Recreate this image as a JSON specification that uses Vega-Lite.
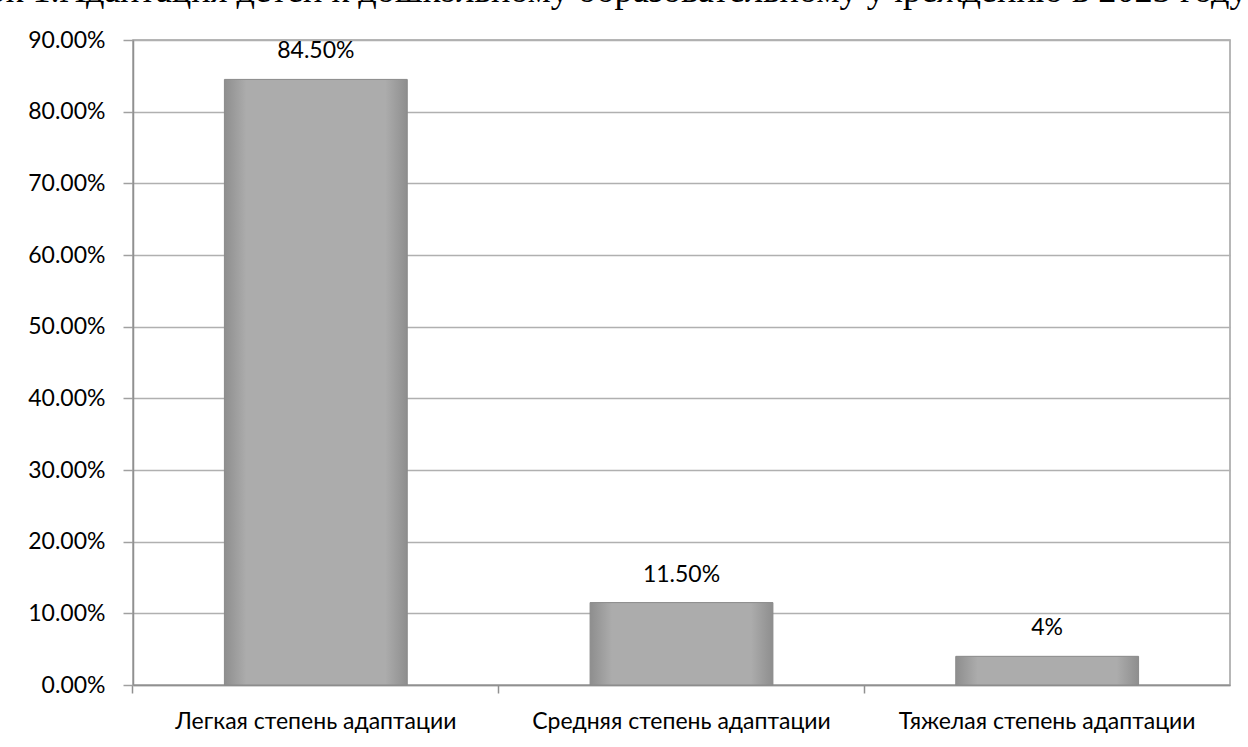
{
  "$schema": "https://vega.github.io/schema/vega-lite/v6.json",
  "autosize": "none",
  "width": 1097,
  "height": 645,
  "padding": {"left": 133, "top": 40, "right": 18, "bottom": 62},
  "background": "white",
  "title": {
    "text": "Рисунок 1.Адаптация детей к дошкольному образовательному учреждению в 2023 году",
    "anchor": "start",
    "dx": -133,
    "offset": 20,
    "font": "Liberation Serif",
    "fontSize": 36.3,
    "fontWeight": "normal",
    "color": "black"
  },
  "data": {
    "values": [
      {"category": "Легкая степень адаптации", "value": 0.845, "label": "84.50%"},
      {"category": "Средняя степень адаптации", "value": 0.115, "label": "11.50%"},
      {"category": "Тяжелая степень адаптации", "value": 0.04, "label": "4%"}
    ]
  },
  "config": {
    "view": {"stroke": "#a0a0a0", "strokeWidth": 1.5},
    "font": "Lato"
  },
  "encoding": {
    "x": {
      "field": "category",
      "type": "nominal",
      "sort": null,
      "scale": {"paddingInner": 0.5, "paddingOuter": 0.25},
      "axis": {
        "title": null,
        "labelAngle": 0,
        "labelFont": "Lato",
        "labelFontSize": 23,
        "labelColor": "black",
        "labelPadding": 17,
        "labelLimit": 0,
        "bandPosition": -0.5,
        "domainColor": "#909090",
        "domainWidth": 1.5,
        "tickColor": "#909090",
        "tickWidth": 1.5,
        "tickSize": 8
      }
    },
    "y": {
      "field": "value",
      "type": "quantitative",
      "scale": {"domain": [0, 0.9]},
      "axis": {
        "title": null,
        "format": ".2%",
        "values": [0, 0.1, 0.2, 0.3, 0.4, 0.5, 0.6, 0.7, 0.8, 0.9],
        "labelFont": "Lato",
        "labelFontSize": 23,
        "labelColor": "black",
        "labelPadding": 18,
        "tickSize": 10,
        "tickColor": "#a0a0a0",
        "tickWidth": 1.5,
        "domainColor": "#909090",
        "domainWidth": 1.5,
        "gridColor": "#b0b0b0",
        "gridWidth": 1.5
      }
    }
  },
  "layer": [
    {
      "mark": {
        "type": "bar",
        "stroke": "#8a8a8a",
        "strokeWidth": 1,
        "color": {
          "gradient": "linear",
          "x1": 0, "y1": 0, "x2": 1, "y2": 0,
          "stops": [
            {"offset": 0, "color": "#8e8e8e"},
            {"offset": 0.12, "color": "#acacac"},
            {"offset": 0.88, "color": "#acacac"},
            {"offset": 1, "color": "#8e8e8e"}
          ]
        }
      }
    },
    {
      "mark": {
        "type": "text",
        "baseline": "bottom",
        "dy": -16,
        "font": "Lato",
        "fontSize": 23,
        "color": "black"
      },
      "encoding": {"text": {"field": "label"}}
    }
  ]
}
